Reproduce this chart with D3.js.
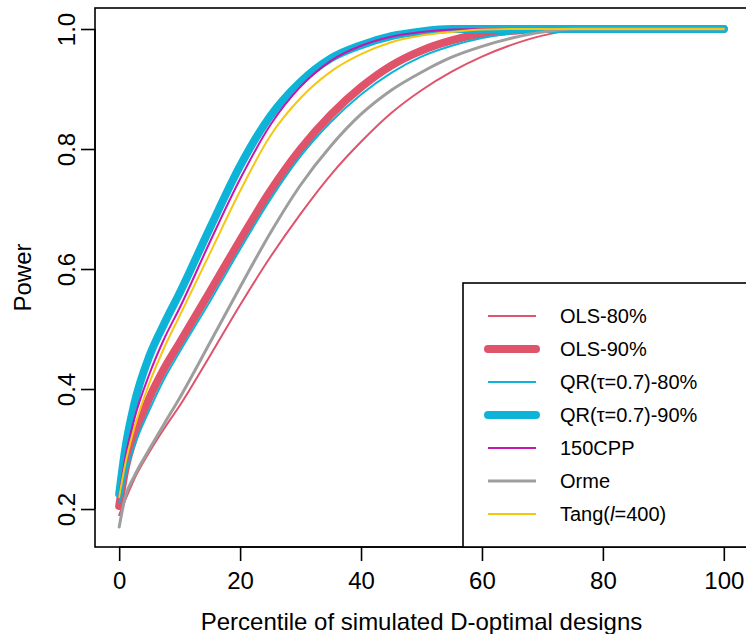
<!DOCTYPE html>
<html>
<head>
<meta charset="utf-8">
<script src="https://cdnjs.cloudflare.com/ajax/libs/d3/7.8.5/d3.min.js"></script>
<style>
  html, body { margin: 0; padding: 0; background: #fff; }
  svg { display: block; font-family: "Liberation Sans", Arial, sans-serif; }
</style>
</head>
<body>
<div id="chart"></div>
<script>
// percentile of simulated designs (x) shared by every series
const percentiles = [0, 1, 2.5, 5, 7.5, 10, 15, 20, 25, 30, 35, 40, 45, 50, 55, 60, 65, 70, 75, 80, 100];

// power, one value per percentile
const ols80 = [0.19, 0.215, 0.25, 0.295, 0.335, 0.372, 0.455, 0.54, 0.62, 0.692, 0.757, 0.812, 0.86, 0.898, 0.929, 0.954, 0.974, 0.989, 0.998, 1.0, 1.0];
const ols90 = [0.205, 0.265, 0.32, 0.385, 0.435, 0.477, 0.562, 0.648, 0.73, 0.80, 0.857, 0.903, 0.939, 0.964, 0.981, 0.992, 0.997, 1.0, 1.0, 1.0, 1.0];
const qr80 = [0.21, 0.255, 0.305, 0.365, 0.418, 0.462, 0.546, 0.633, 0.716, 0.788, 0.845, 0.891, 0.927, 0.954, 0.972, 0.985, 0.993, 0.998, 1.0, 1.0, 1.0];
const qr90 = [0.225, 0.30, 0.375, 0.455, 0.51, 0.56, 0.668, 0.772, 0.855, 0.912, 0.951, 0.973, 0.988, 0.996, 1.0, 1.0, 1.0, 1.0, 1.0, 1.0, 1.0];
const cpp150 = [0.22, 0.285, 0.35, 0.425, 0.485, 0.535, 0.645, 0.75, 0.84, 0.904, 0.947, 0.972, 0.987, 0.995, 0.999, 1.0, 1.0, 1.0, 1.0, 1.0, 1.0];
const orme = [0.17, 0.22, 0.255, 0.30, 0.343, 0.385, 0.477, 0.57, 0.66, 0.74, 0.805, 0.858, 0.898, 0.928, 0.953, 0.971, 0.985, 0.995, 1.0, 1.0, 1.0];
const tang = [0.22, 0.275, 0.335, 0.41, 0.47, 0.522, 0.626, 0.73, 0.822, 0.885, 0.929, 0.958, 0.978, 0.989, 0.995, 0.999, 1.0, 1.0, 1.0, 1.0, 1.0];

const seriesNames = ['OLS-80%', 'OLS-90%', 'QR(τ=0.7)-80%', 'QR(τ=0.7)-90%', '150CPP', 'Orme', 'Tang(l=400)'];
const xTicks = [0, 20, 40, 60, 80, 100];
const yTicks = [0.2, 0.4, 0.6, 0.8, 1.0];

const series = [
  { name: seriesNames[0], values: ols80, color: '#DF536B', width: 2 },
  { name: seriesNames[1], values: ols90, color: '#DF536B', width: 8 },
  { name: seriesNames[2], values: qr80, color: '#0DB4D8', width: 2 },
  { name: seriesNames[3], values: qr90, color: '#0DB4D8', width: 8 },
  { name: seriesNames[4], values: cpp150, color: '#C417B0', width: 2 },
  { name: seriesNames[5], values: orme, color: '#9E9E9E', width: 3 },
  { name: seriesNames[6], values: tang, color: '#F5C710', width: 2 }
];

const width = 746;
const height = 634;
const plot = { left: 95, right: 748, top: 8, bottom: 547 };
const fontFamily = '"Liberation Sans", Arial, sans-serif';

const svg = d3.select('#chart').append('svg')
  .attr('width', width)
  .attr('height', height);

const x = d3.scaleLinear().domain([-4, 104]).range([plot.left, plot.right]);
const y = d3.scaleLinear().domain([0.1367, 1.035]).range([plot.bottom, plot.top]);

// curves
const line = d3.line()
  .x((d) => x(d[0]))
  .y((d) => y(d[1]))
  .curve(d3.curveMonotoneX);

svg.append('g').selectAll('path')
  .data(series)
  .enter().append('path')
    .attr('d', (s) => line(percentiles.map((p, i) => [p, s.values[i]])))
    .attr('fill', 'none')
    .attr('stroke', (s) => s.color)
    .attr('stroke-width', (s) => s.width)
    .attr('stroke-linecap', 'round')
    .attr('stroke-linejoin', 'round');

// box
svg.append('rect')
  .attr('x', plot.left)
  .attr('y', plot.top)
  .attr('width', plot.right - plot.left)
  .attr('height', plot.bottom - plot.top)
  .attr('fill', 'none')
  .attr('stroke', '#000')
  .attr('stroke-width', 1.6);

// x axis
const xAxis = svg.append('g')
  .attr('transform', `translate(0,${plot.bottom})`)
  .call(d3.axisBottom(x).tickValues(xTicks).tickSize(14).tickPadding(11).tickFormat(d3.format('d')));
xAxis.select('.domain')
  .attr('d', `M${x(0)},0H${x(100)}`)
  .attr('stroke-width', 1.6);
xAxis.selectAll('.tick line').attr('stroke-width', 1.6);
xAxis.selectAll('.tick text')
  .attr('font-size', 24)
  .attr('font-family', fontFamily)
  .attr('fill', '#000');

// y axis
const yAxis = svg.append('g')
  .attr('transform', `translate(${plot.left},0)`)
  .call(d3.axisLeft(y).tickValues(yTicks).tickSize(14).tickFormat(d3.format('.1f')));
yAxis.select('.domain')
  .attr('d', `M0,${y(0.2)}V${y(1.0)}`)
  .attr('stroke-width', 1.6);
yAxis.selectAll('.tick line').attr('stroke-width', 1.6);
yAxis.selectAll('.tick text')
  .attr('x', null)
  .attr('dy', null)
  .attr('transform', 'translate(-20,0) rotate(-90)')
  .attr('text-anchor', 'middle')
  .attr('font-size', 24)
  .attr('font-family', fontFamily)
  .attr('fill', '#000');

// axis titles
svg.append('text')
  .attr('x', (plot.left + plot.right) / 2)
  .attr('y', 630)
  .attr('text-anchor', 'middle')
  .attr('font-size', 24)
  .text('Percentile of simulated D-optimal designs');

svg.append('text')
  .attr('transform', `translate(31,${(plot.top + plot.bottom) / 2}) rotate(-90)`)
  .attr('text-anchor', 'middle')
  .attr('font-size', 24)
  .text('Power');

// legend, bottom right of the plot
const legend = svg.append('g');
legend.append('rect')
  .attr('x', 463)
  .attr('y', 283)
  .attr('width', plot.right - 463)
  .attr('height', plot.bottom - 283)
  .attr('fill', '#fff')
  .attr('stroke', '#000')
  .attr('stroke-width', 1.6);

const rows = legend.selectAll('g.row')
  .data(series)
  .enter().append('g')
    .attr('class', 'row')
    .attr('transform', (d, i) => `translate(0,${316 + i * 33})`);

rows.append('line')
  .attr('x1', 488)
  .attr('x2', 536)
  .attr('stroke', (d) => d.color)
  .attr('stroke-width', (d) => d.width)
  .attr('stroke-linecap', (d) => d.width > 4 ? 'round' : 'butt');

rows.append('text')
  .attr('x', 560)
  .attr('y', 7)
  .attr('font-size', 20)
  .each(function(d) {
    const t = d3.select(this);
    if (d.name.startsWith('Tang')) {
      t.append('tspan').text('Tang(');
      t.append('tspan').attr('font-style', 'italic').text('l');
      t.append('tspan').text('=400)');
    } else {
      t.text(d.name);
    }
  });
</script>
</body>
</html>
